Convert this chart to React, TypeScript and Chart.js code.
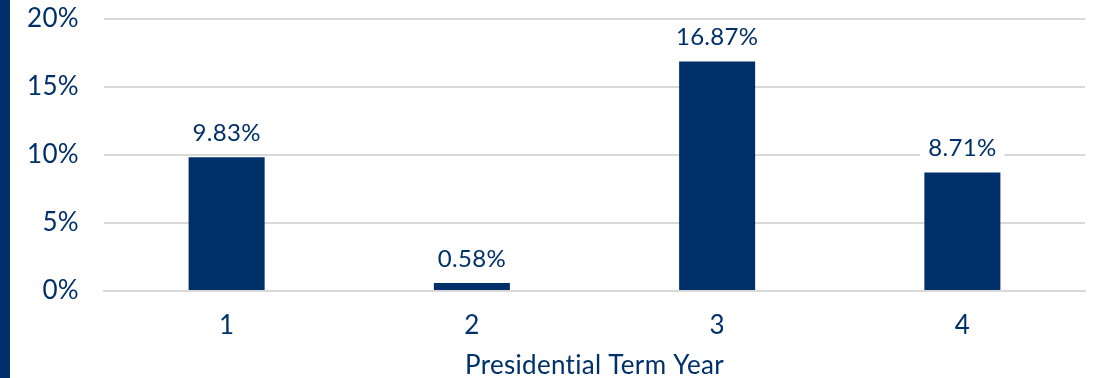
import React, { useEffect, useRef } from "react";
import { Chart, registerables } from "chart.js";

Chart.register(...registerables);

const categories = ["1", "2", "3", "4"];
const returns = [9.83, 0.58, 16.87, 8.71];
const yTicks = [0, 5, 10, 15, 20];
const axisTitle = "Presidential Term Year";

const NAVY = "#003069";
const FONT = "Lato, 'Noto Sans', sans-serif";

const spacingPlugin = {
  id: "noLigatures",
  beforeDraw(chart: any) {
    const ctx = chart.ctx as any;
    if ("letterSpacing" in ctx) ctx.letterSpacing = "0.3px";
  },
};

const labelPlugin = {
  id: "barLabels",
  afterDatasetsDraw(chart: any) {
    const ctx = chart.ctx;
    const meta = chart.getDatasetMeta(0);
    ctx.save();
    ctx.font = `24px ${FONT}`;
    ctx.textAlign = "center";
    ctx.textBaseline = "middle";
    meta.data.forEach((bar: any, i: number) => {
      const text = returns[i].toFixed(2) + "%";
      const cx = bar.x;
      const cy = bar.y - 24;
      const w = ctx.measureText(text).width + 16;
      const h = 30;
      ctx.fillStyle = "#ffffff";
      ctx.fillRect(cx - w / 2, cy - h / 2, w, h);
      ctx.fillStyle = NAVY;
      ctx.fillText(text, cx, cy);
    });
    ctx.restore();
  },
};

export default function App() {
  const ref = useRef<HTMLCanvasElement | null>(null);

  useEffect(() => {
    document.body.style.margin = "0";
    if (!ref.current) return;
    const chart = new Chart(ref.current, {
      type: "bar",
      data: {
        labels: categories,
        datasets: [
          {
            data: returns,
            backgroundColor: NAVY,
            borderWidth: 0,
            barPercentage: 0.31,
            categoryPercentage: 1,
          },
        ],
      },
      options: {
        animation: false,
        responsive: false,
        maintainAspectRatio: false,
        devicePixelRatio: 1,
        layout: { padding: { top: 19, right: 12, left: 0, bottom: 0 } },
        plugins: {
          legend: { display: false },
          tooltip: { enabled: false },
        },
        scales: {
          x: {
            grid: { display: false, drawTicks: false },
            border: { display: true, color: "#d9d9d9", width: 2 },
            ticks: {
              color: NAVY,
              font: { family: FONT, size: 26 },
              padding: 19,
            },
            title: {
              display: true,
              text: axisTitle,
              color: NAVY,
              font: { family: FONT, size: 26 },
              padding: { top: 0, bottom: -3 },
            },
            afterFit(scale: any) {
              scale.height = 87;
            },
          },
          y: {
            min: 0,
            max: 20,
            afterBuildTicks(scale: any) {
              scale.ticks = yTicks.map((v) => ({ value: v }));
            },
            grid: {
              color: "#d9d9d9",
              lineWidth: 2,
              drawTicks: true,
              tickLength: 25,
              tickColor: "rgba(0,0,0,0)",
            },
            border: { display: false },
            ticks: {
              color: NAVY,
              font: { family: FONT, size: 26 },
              padding: 0,
              callback: (v: any) => `${v}%`,
            },
            afterFit(scale: any) {
              scale.width = 94;
            },
          },
        },
      },
      plugins: [spacingPlugin, labelPlugin],
    });
    return () => chart.destroy();
  }, []);

  return (
    <div style={{ position: "fixed", left: 0, top: 0, width: 1097, height: 378, display: "flex", background: "#fff" }}>
      <div style={{ width: 10, height: 378, background: NAVY }} />
      <canvas ref={ref} width={1087} height={378} style={{ width: 1087, height: 378, display: "block" }} />
    </div>
  );
}
